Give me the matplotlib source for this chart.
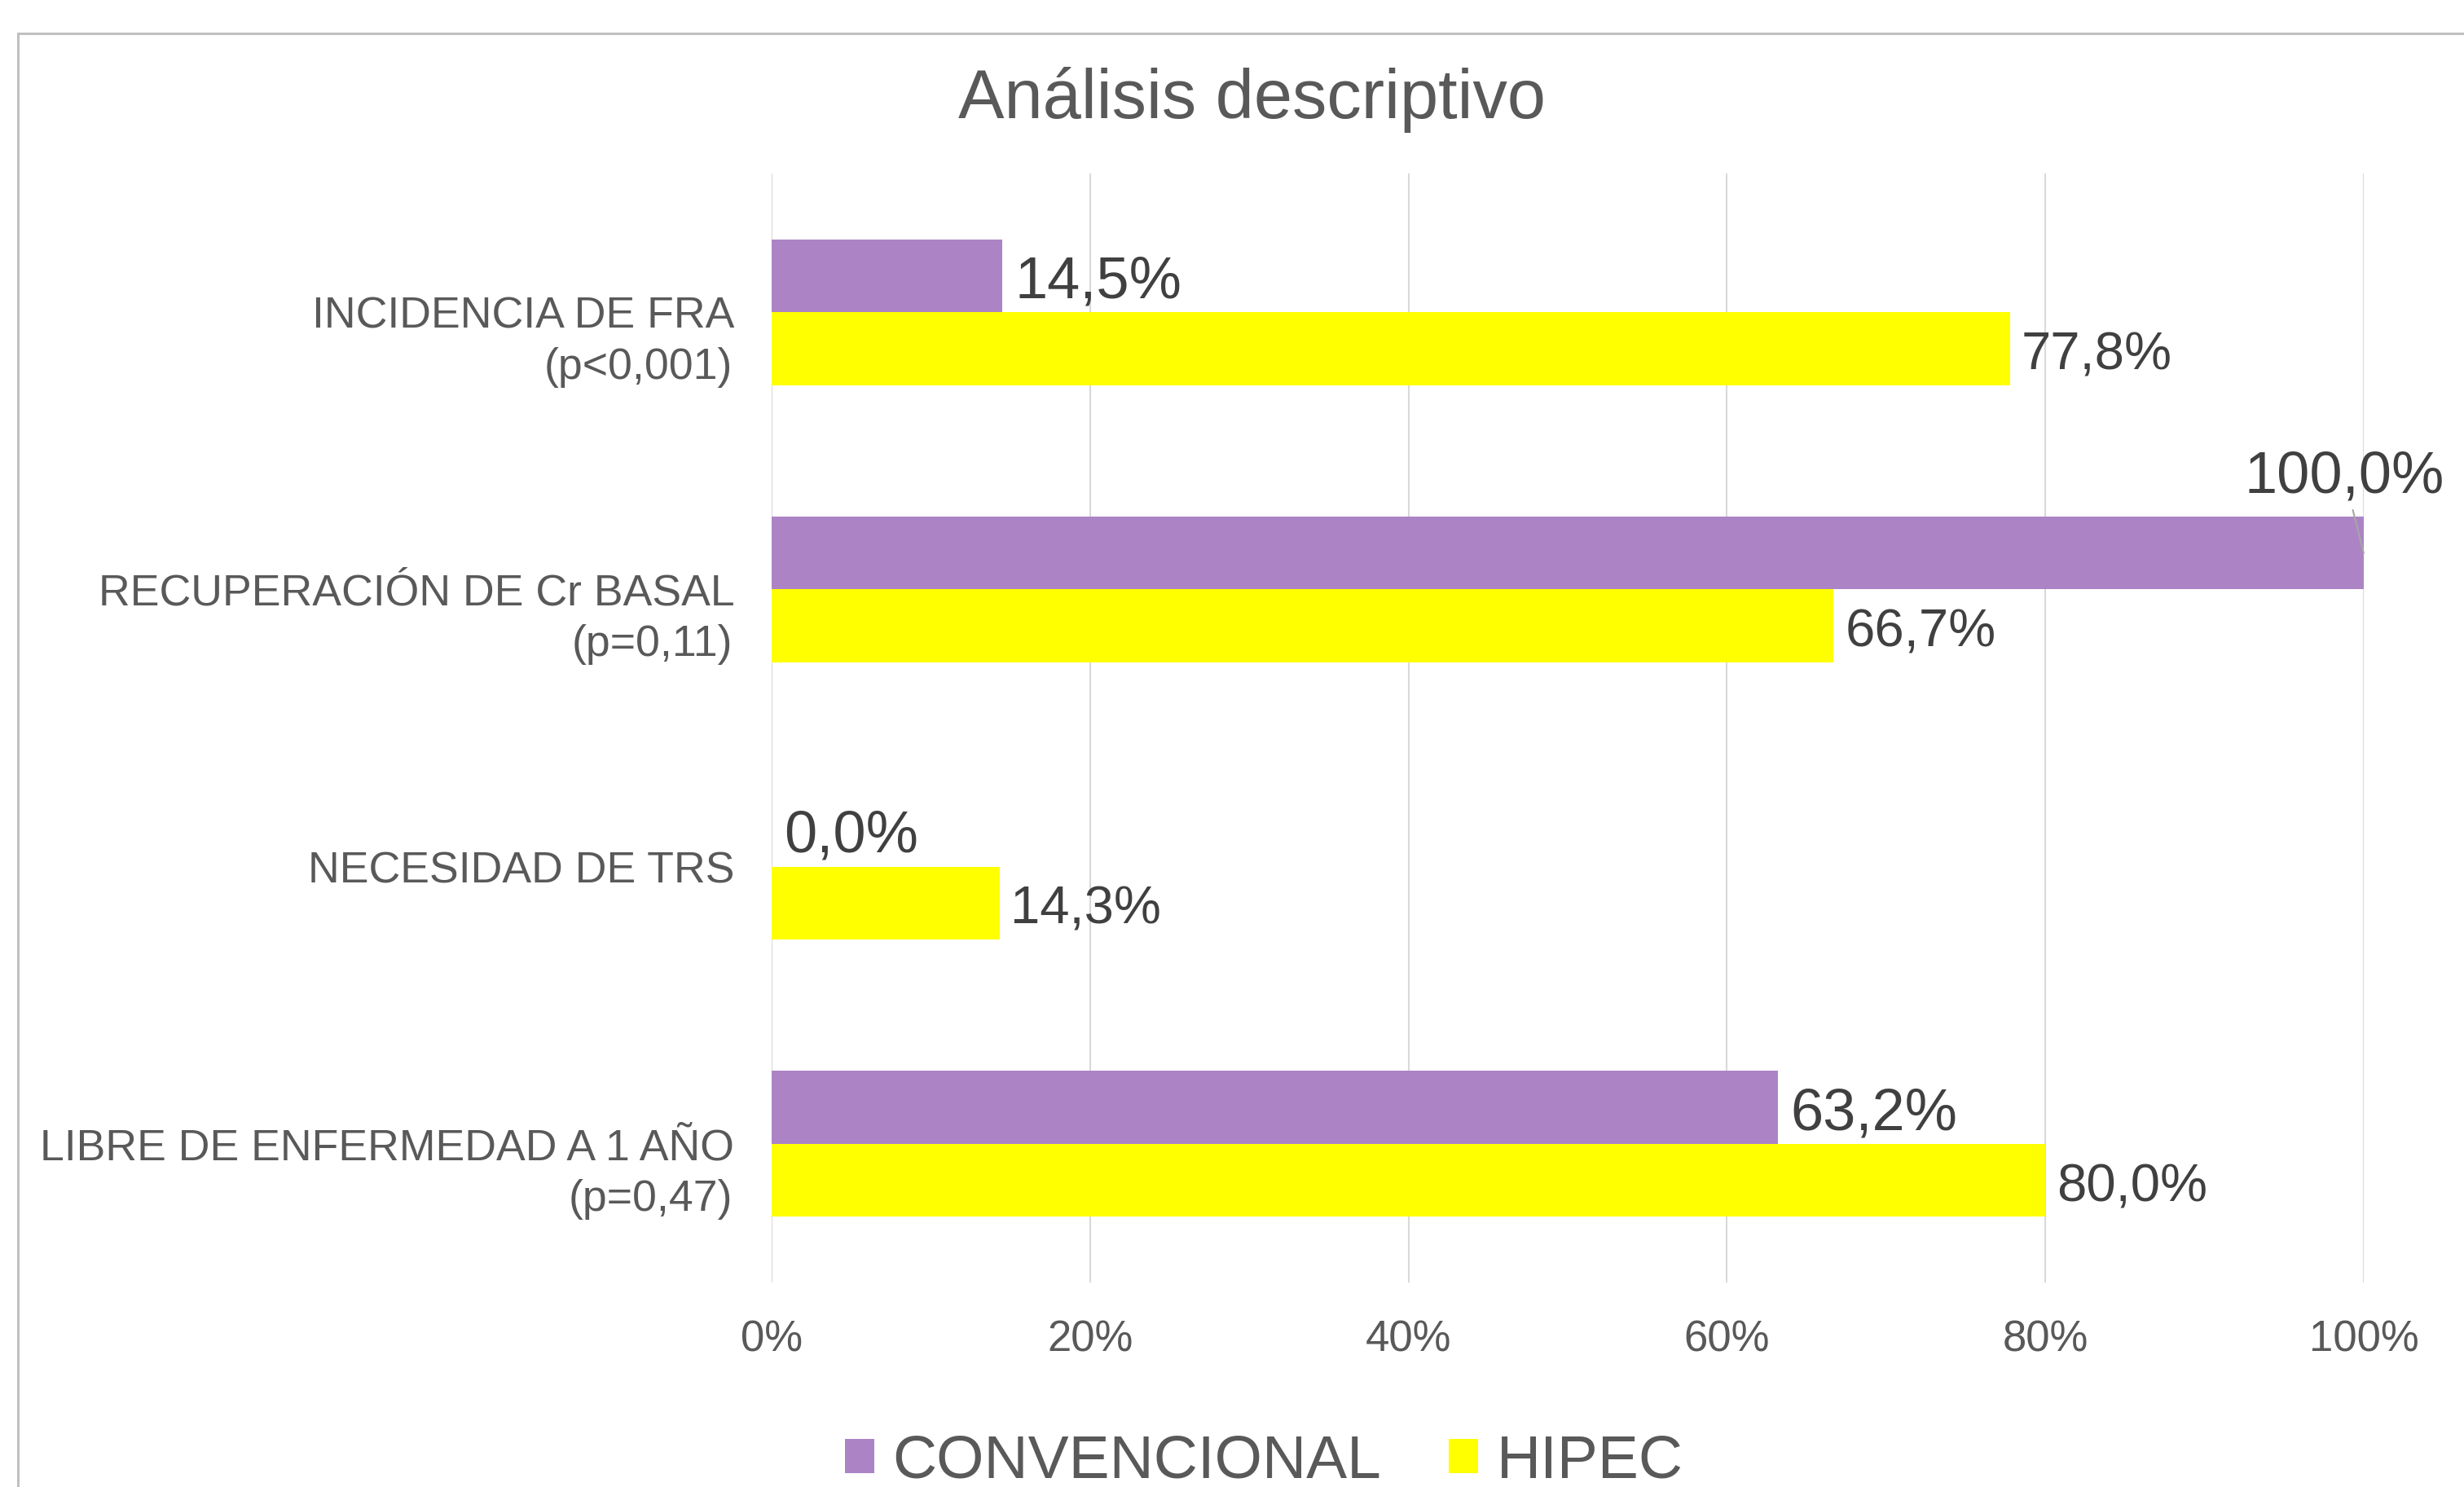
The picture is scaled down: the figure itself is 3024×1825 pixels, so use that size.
import matplotlib.pyplot as plt
from matplotlib.patches import Rectangle
import matplotlib.transforms as mtransforms

plt.rcParams['font.family'] = ['Liberation Sans', 'DejaVu Sans']

categories = ['INCIDENCIA DE FRA', 'RECUPERACIÓN DE Cr BASAL', 'NECESIDAD DE TRS',
              'LIBRE DE ENFERMEDAD A 1 AÑO']
pvalues = ['(p<0,001)', '(p=0,11)', '', '(p=0,47)']
convencional = [14.5, 100.0, 0.0, 63.2]
hipec = [77.8, 66.7, 14.3, 80.0]
xticks = [0, 20, 40, 60, 80, 100]
xtick_labels = ['0%', '20%', '40%', '60%', '80%', '100%']

purple = '#ac84c5'
yellow = '#ffff00'
grey_txt = '#595959'
dark_txt = '#404040'

fig = plt.figure(figsize=(30.24, 18.25), dpi=100)
ax = fig.add_axes([0.3132, 0.1375, 0.6461, 0.7458])

# chart area border (runs off the right and bottom of the picture)
fig.patches.append(Rectangle((0.0073, -0.05), 1.1, 0.9775 + 0.05, transform=fig.transFigure,
                             fill=False, edgecolor='#c0c0c0', linewidth=2.2, zorder=0))

y = list(range(len(categories)))
h = 0.263
y_conv = [i - h / 2 for i in y]
y_hip = [i + h / 2 for i in y]
b1 = ax.barh(y_conv, convencional, height=h, color=purple, label='CONVENCIONAL', zorder=2)
b2 = ax.barh(y_hip, hipec, height=h, color=yellow, label='HIPEC', zorder=2)

ax.set_xlim(0, 100)
ax.set_ylim(3.5, -0.5)
ax.set_xticks(xticks, labels=xtick_labels)
ax.set_yticks(y, labels=categories)
ax.tick_params(axis='x', length=0, pad=33, labelsize=38, labelcolor=grey_txt)
ax.tick_params(axis='y', length=0, pad=33, labelsize=38.6, labelcolor=grey_txt)
ax.grid(axis='x', color='#d9d9d9', linewidth=1.5, zorder=0)
ax.set_axisbelow(True)
for s in ax.spines.values():
    s.set_visible(False)

# second line of category labels
trans = mtransforms.blended_transform_factory(ax.transAxes, ax.transData)
for i, p in enumerate(pvalues):
    if p:
        ax.text(-0.0245, i + 0.2, p, transform=trans, ha='right', va='center',
                fontsize=38.6, color=grey_txt)

def fmt(v):
    return f'{v:.1f}'.replace('.', ',') + '%'

for yi, v in zip(y_conv, convencional):
    if v >= 100:
        ax.annotate(fmt(v), xy=(v, yi), xytext=(-17, 67), textcoords='offset points',
                    ha='center', va='center', fontsize=52, color=dark_txt,
                    arrowprops=dict(arrowstyle='-', color='#a6a6a6', lw=1.5,
                                    shrinkA=3, shrinkB=0), annotation_clip=False)
    else:
        ax.annotate(fmt(v), xy=(v, yi), xytext=(11, -6), textcoords='offset points',
                    ha='left', va='center', fontsize=52, color=dark_txt)
for yi, v in zip(y_hip, hipec):
    ax.annotate(fmt(v), xy=(v, yi), xytext=(10, -6), textcoords='offset points',
                ha='left', va='center', fontsize=47, color=dark_txt)

fig.text(0.508, 0.933, 'Análisis descriptivo', ha='center', va='center',
         fontsize=61, color=grey_txt)

leg = fig.legend(handles=[b1, b2], loc='center', bbox_to_anchor=(0.513, 0.017), ncol=2,
                 frameon=False, fontsize=54, handlelength=0.48, handleheight=0.48,
                 handletextpad=0.3, columnspacing=1.1, borderpad=0)
for t in leg.get_texts():
    t.set_color(grey_txt)

fig.savefig('out.png', dpi=100, facecolor='white')
